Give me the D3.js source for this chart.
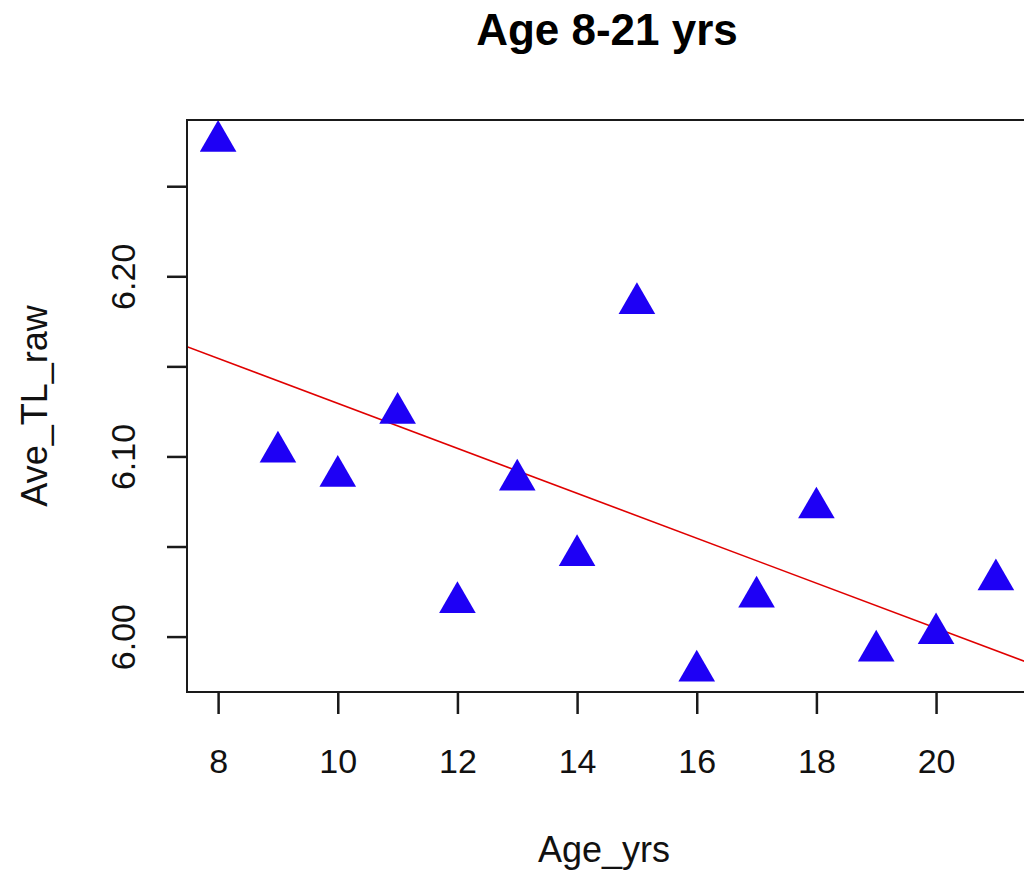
<!DOCTYPE html>
<html>
<head>
<meta charset="utf-8">
<script src="https://cdn.jsdelivr.net/npm/d3@7"></script>
<style>
  html, body { margin: 0; padding: 0; background: #fff; }
  svg { display: block; font-family: "Liberation Sans", Arial, sans-serif; }
</style>
</head>
<body>
<svg width="1024" height="877"></svg>
<script>
// data
var ages = [8, 9, 10, 11, 12, 13, 14, 15, 16, 17, 18, 19, 20, 21];
var aveTL = [6.275, 6.1025, 6.089, 6.124, 6.019, 6.087, 6.045, 6.185, 5.981, 6.022, 6.0715, 5.992, 6.0017, 6.0316];
var xTicks = [8, 10, 12, 14, 16, 18, 20];
var yTicks = [6.00, 6.05, 6.10, 6.15, 6.20, 6.25];
var yLabelled = [6.00, 6.10, 6.20];

var svg = d3.select("svg");
var plot = { left: 187, top: 120, right: 1027, bottom: 692 };

// R style 4% padding on both axes
function pad(ext) {
  var d = (ext[1] - ext[0]) * 0.04;
  return [ext[0] - d, ext[1] + d];
}

var xScale = d3.scaleLinear().domain(pad(d3.extent(ages))).range([plot.left, plot.right]);
var yScale = d3.scaleLinear().domain(pad(d3.extent(aveTL))).range([plot.bottom, plot.top]);

var points = ages.map(function (a, i) {
  return { x: a, y: aveTL[i] };
});

// least squares fit, like abline(lm(...))
var mx = d3.mean(ages), my = d3.mean(aveTL);
var sxy = d3.sum(points, function (d) { return (d.x - mx) * (d.y - my); });
var sxx = d3.sum(points, function (d) { return (d.x - mx) * (d.x - mx); });
var slope = sxy / sxx;
var intercept = my - slope * mx;

svg.append("defs").append("clipPath").attr("id", "plotClip")
  .append("rect")
  .attr("x", plot.left).attr("y", plot.top)
  .attr("width", plot.right - plot.left).attr("height", plot.bottom - plot.top);

// title
svg.append("text")
  .attr("x", (plot.left + plot.right) / 2)
  .attr("y", 45)
  .attr("text-anchor", "middle")
  .attr("font-size", 44)
  .attr("font-weight", "bold")
  .text("Age 8-21 yrs");

// x axis
var xAxis = svg.append("g")
  .attr("transform", "translate(0," + plot.bottom + ")")
  .call(d3.axisBottom(xScale).tickValues(xTicks).tickSize(22).tickFormat(d3.format("d")));
xAxis.select(".domain").remove();
xAxis.selectAll(".tick line").attr("stroke", "#1a1a1a").attr("stroke-width", 2.5);
xAxis.selectAll(".tick text")
  .attr("y", 81).attr("dy", 0)
  .attr("font-size", 34).attr("fill", "#111")
  .attr("font-family", "Liberation Sans, Arial, sans-serif");

// y axis
var yAxis = svg.append("g")
  .attr("transform", "translate(" + plot.left + ",0)")
  .call(d3.axisLeft(yScale).tickValues(yTicks).tickSize(20).tickFormat(function (d) {
    return yLabelled.some(function (v) { return Math.abs(v - d) < 1e-9; }) ? d3.format(".2f")(d) : "";
  }));
yAxis.select(".domain").remove();
yAxis.selectAll(".tick line").attr("stroke", "#1a1a1a").attr("stroke-width", 2.5);
yAxis.selectAll(".tick text")
  .attr("transform", "rotate(-90)")
  .attr("x", 0).attr("y", -52).attr("dy", 0)
  .attr("text-anchor", "middle")
  .attr("font-size", 34).attr("fill", "#111")
  .attr("font-family", "Liberation Sans, Arial, sans-serif");

// axis titles
svg.append("text")
  .attr("x", (plot.left + plot.right) / 2 - 3)
  .attr("y", 862)
  .attr("text-anchor", "middle")
  .attr("font-size", 36)
  .attr("fill", "#111")
  .text("Age_yrs");

svg.append("text")
  .attr("transform", "translate(47," + (plot.top + plot.bottom) / 2 + ") rotate(-90)")
  .attr("text-anchor", "middle")
  .attr("font-size", 36)
  .attr("fill", "#111")
  .text("Ave_TL_raw");

// regression line
var x0 = xScale.domain()[0], x1 = xScale.domain()[1];
svg.append("line")
  .attr("clip-path", "url(#plotClip)")
  .attr("x1", xScale(x0)).attr("y1", yScale(intercept + slope * x0))
  .attr("x2", xScale(x1)).attr("y2", yScale(intercept + slope * x1))
  .attr("stroke", "#e00000")
  .attr("stroke-width", 1.6);

// filled triangles (pch 17)
var s = 13.6;
var triangle = "M0," + (-1.555 * s) +
  "L" + (1.3468 * s) + "," + (0.7776 * s) +
  "L" + (-1.3468 * s) + "," + (0.7776 * s) + "Z";
svg.append("g")
  .selectAll("path")
  .data(points)
  .enter()
  .append("path")
  .attr("transform", function (d) {
    return "translate(" + xScale(d.x) + "," + yScale(d.y) + ")";
  })
  .attr("d", triangle)
  .attr("fill", "#1e00f5");

// plot box
svg.append("rect")
  .attr("x", plot.left).attr("y", plot.top)
  .attr("width", plot.right - plot.left).attr("height", plot.bottom - plot.top)
  .attr("fill", "none")
  .attr("stroke", "#1a1a1a")
  .attr("stroke-width", 2);
</script>
</body>
</html>
